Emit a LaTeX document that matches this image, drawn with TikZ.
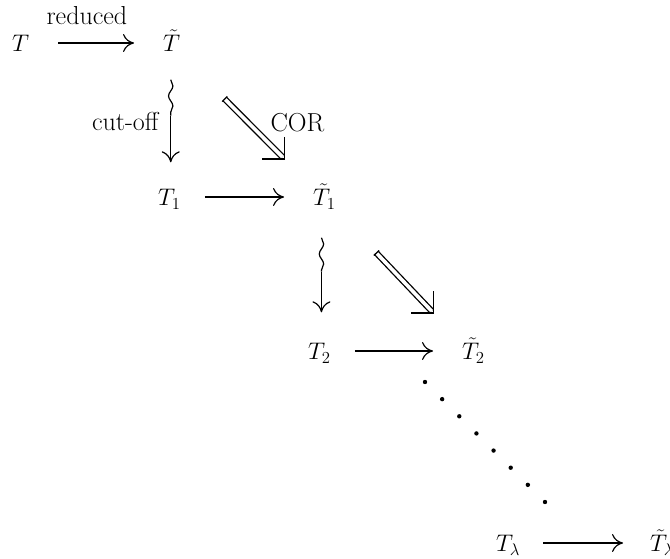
\RequirePackage{fix-cm}
\documentclass[tikz,border=0pt]{standalone}
\usetikzlibrary{arrows.meta,calc,decorations.pathmorphing}
\begin{document}
\begin{tikzpicture}[x=1pt,y=-1pt,
  every node/.style={font=\fontsize{24}{28}\selectfont, inner sep=0pt},
  lbl/.style={font=\fontsize{26}{30}\selectfont},
  mnode/.style={text height=17pt, text depth=0pt, anchor=west},
  harr/.style={line width=1.2pt, -{Computer Modern Rightarrow[length=11pt,width=18pt]}, shorten <=24pt, shorten >=29pt},
  varr/.style={line width=1.2pt, -{Computer Modern Rightarrow[length=11pt,width=18pt]}},
  wavy/.style={line width=1.2pt, decorate, decoration={snake, segment length=20pt, amplitude=2.2pt}},
  dshaft/.style={line width=1.3pt, double, double distance=3.6pt},
  dhead/.style={line width=1.3pt, line join=miter},
]
\useasboundingbox (0,0) rectangle (670,559);

% nodes
\node[mnode] (T0)  at (12,43)   {$T$};
\node[mnode] (Tt0) at (163,43)  {$\tilde{T}$};
\node[mnode] (T1)  at (158,197) {$T_1$};
\node[mnode] (Tt1) at (313,197) {$\tilde{T}_1$};
\node[mnode] (T2)  at (308,351) {$T_2$};
\node[mnode] (Tt2) at (462,351) {$\tilde{T}_2$};
\node[mnode] (TL)  at (496,543) {$T_\lambda$};
\node[mnode] (TtL) at (650,543) {$\tilde{T}_\lambda$};

% horizontal arrows
\draw[harr, shorten <=29pt] (T0.east) -- node[lbl, pos=0.43, above=18pt] (lred) {reduced} (Tt0.west);
\draw[harr] (T1.east) -- (Tt1.west);
\draw[harr] (T2.east) -- (Tt2.west);
\draw[harr, shorten <=23pt, shorten >=27pt] (TL.east) -- (TtL.west);

% squiggly vertical arrows
\path (Tt0.south) ++(-1,28) coordinate (s1top) ++(0,36) coordinate (s1mid);
\coordinate (s1tip) at ($(s1mid |- T1.north)+(0,-26)$);
\draw[wavy] (s1top) -- (s1mid);
\draw[varr] (s1mid) -- (s1tip);
\node[lbl, anchor=east] (lcut) at ($(s1top)+(-12,42)$) {cut-off};

\path (Tt1.south) ++(-3,32) coordinate (s2top) ++(0,34) coordinate (s2mid);
\coordinate (s2tip) at ($(s2mid |- T2.north)+(0,-30)$);
\draw[wavy] (s2top) -- (s2mid);
\draw[varr] (s2mid) -- (s2tip);

% double arrows
\coordinate (A1) at ($(Tt0)+(53,56)$);
\coordinate (B1) at ($(Tt1)+(-40,-38)$);
\draw[dshaft] (A1) -- ($(B1)!2.8pt!(A1)$);
\draw[line width=1.3pt] ($(A1)!3.6pt!90:(B1)$) -- ($(A1)!3.6pt!-90:(B1)$);
\draw[dhead] ($(B1)+(0,-22)$) -- (B1) -- ($(B1)+(-22,0)$);
\node[lbl] (lcor) at ($(B1)+(13,-36)$) {COR};

\coordinate (A2) at ($(Tt1)+(52,56)$);
\coordinate (B2) at ($(Tt2)+(-40,-38)$);
\draw[dshaft] (A2) -- ($(B2)!2.8pt!(A2)$);
\draw[line width=1.3pt] ($(A2)!3.6pt!90:(B2)$) -- ($(A2)!3.6pt!-90:(B2)$);
\draw[dhead] ($(B2)+(0,-22)$) -- (B2) -- ($(B2)+(-22,0)$);

% dots
\coordinate (d0) at (425,382);
\coordinate (d1) at (545,502);
\foreach \i in {0,...,7} \fill ($(d0)!\i/7!(d1)$) circle (2.2pt);
\end{tikzpicture}
\end{document}
